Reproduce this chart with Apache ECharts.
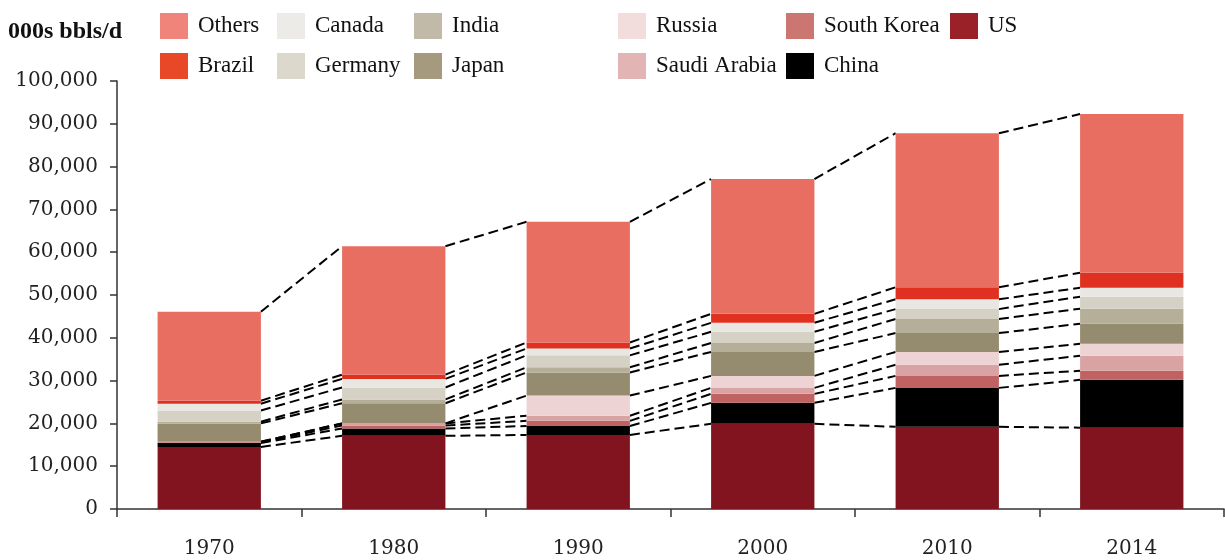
<!DOCTYPE html>
<html>
<head>
<meta charset="utf-8">
<script src="https://cdn.jsdelivr.net/npm/echarts@6/dist/echarts.min.js"></script>
<style>
  html, body { margin: 0; padding: 0; background: #fff; }
  #chart { width: 1225px; height: 560px; }
</style>
</head>
<body>
<div id="chart"></div>
<script>
// Oil consumption by country, thousand barrels per day
const years = ['1970', '1980', '1990', '2000', '2010', '2014'];
const us          = [14500, 17100, 17300, 19900, 19200, 19000];
const china       = [900, 1700, 2100, 4900, 9100, 11200];
const southKorea  = [200, 700, 1200, 2100, 2800, 2100];
const saudiArabia = [100, 500, 1200, 1400, 2600, 3500];
const russia      = [0, 0, 4700, 2800, 3000, 2800];
const japan       = [4300, 4700, 5400, 5600, 4400, 4700];
const india       = [400, 900, 1200, 2100, 3300, 3500];
const germany     = [2600, 2800, 2800, 2600, 2300, 2800];
const canada      = [1600, 2000, 1600, 2100, 2300, 2100];
const brazil      = [700, 1000, 1400, 2100, 2800, 3500];
const others      = [20800, 30000, 28200, 31500, 36000, 37100];
const yTicks = [0, 10000, 20000, 30000, 40000, 50000, 60000, 70000, 80000, 90000, 100000];

// stacking order, bottom to top
const stack = [
  { name: 'US',           data: us,          bar: '#82141f', key: '#9a2128' },
  { name: 'China',        data: china,       bar: '#000000', key: '#000000' },
  { name: 'South Korea',  data: southKorea,  bar: '#c06262', key: '#cc7672' },
  { name: 'Saudi Arabia', data: saudiArabia, bar: '#d9a3a3', key: '#e2b5b4' },
  { name: 'Russia',       data: russia,      bar: '#edd3d3', key: '#f2dcdc' },
  { name: 'Japan',        data: japan,       bar: '#958b6e', key: '#a59a7e' },
  { name: 'India',        data: india,       bar: '#b5ae98', key: '#c2baa8' },
  { name: 'Germany',      data: germany,     bar: '#d5d1c5', key: '#dcd8cc' },
  { name: 'Canada',       data: canada,      bar: '#e8e7e2', key: '#ecebe7' },
  { name: 'Brazil',       data: brazil,      bar: '#e03020', key: '#e84828' },
  { name: 'Others',       data: others,      bar: '#e86e62', key: '#f0837a' }
];

// legend columns (top row, bottom row)
const legendCols = [
  { left: 160, names: ['Others', 'Brazil'] },
  { left: 277, names: ['Canada', 'Germany'] },
  { left: 414, names: ['India', 'Japan'] },
  { left: 618, names: ['Russia', 'Saudi Arabia'] },
  { left: 786, names: ['South Korea', 'China'] },
  { left: 950, names: ['US'] }
];

const serif = 'Liberation Serif';
const numFont = 'DejaVu Serif';
const BAR_FRAC = 0.56;

// cumulative tops of each stacked segment per year
const cumTops = years.map((_, i) => {
  let s = 0;
  return stack.map(st => (s += st.data[i]));
});

// connector data: one segment per level between neighbouring years
const connectors = [];
for (let i = 0; i < years.length - 1; i++) {
  for (let k = 0; k < stack.length; k++) {
    connectors.push([i, cumTops[i][k], cumTops[i + 1][k]]);
  }
}

const colorOf = {};
stack.forEach(s => { colorOf[s.name] = s.key; });

const fmt = v => String(v).replace(/\B(?=(\d{3})+(?!\d))/g, ',');

const barSeries = stack.map(st => ({
  name: st.name,
  type: 'bar',
  stack: 'total',
  barWidth: (BAR_FRAC * 100) + '%',
  data: st.data,
  itemStyle: { color: st.bar },
  emphasis: { disabled: true },
  z: 3
}));

const connectorSeries = {
  type: 'custom',
  silent: true,
  z: 2,
  data: connectors,
  encode: { x: 0, y: [1, 2] },
  renderItem: function (params, api) {
    const i = api.value(0);
    const a = api.coord([i, api.value(1)]);
    const b = api.coord([i + 1, api.value(2)]);
    const half = api.size([1, 0])[0] * BAR_FRAC / 2;
    return {
      type: 'line',
      shape: { x1: a[0] + half, y1: a[1], x2: b[0] - half, y2: b[1] },
      style: { stroke: '#000', lineWidth: 2, lineDash: [10, 5], fill: null }
    };
  }
};

const legends = legendCols.map(col => ({
  orient: 'vertical',
  left: col.left,
  top: 13,
  padding: 0,
  itemWidth: 28,
  itemHeight: 26,
  itemGap: 14,
  icon: 'rect',
  selectedMode: false,
  textStyle: { fontFamily: serif, fontSize: 23, color: '#111', padding: [2, 0, 0, 5] },
  data: col.names.map(n => ({ name: n, itemStyle: { color: colorOf[n] } }))
}));

const chart = echarts.init(document.getElementById('chart'), null, { renderer: 'canvas' });
chart.setOption({
  animation: false,
  backgroundColor: '#fff',
  title: {
    text: '000s bbls/d',
    left: 8,
    top: 20,
    padding: 0,
    textStyle: { fontFamily: serif, fontWeight: 'bold', fontSize: 24, color: '#111' }
  },
  legend: legends,
  grid: { left: 117, right: 1, top: 81, bottom: 51, containLabel: false },
  xAxis: {
    type: 'category',
    data: years,
    axisLine: { lineStyle: { color: '#333', width: 1.5 } },
    axisTick: { show: true, length: 8, alignWithLabel: false, lineStyle: { color: '#333', width: 1.5 } },
    axisLabel: { fontFamily: numFont, fontSize: 20, color: '#222', margin: 30 }
  },
  yAxis: {
    type: 'value',
    min: yTicks[0],
    max: yTicks[yTicks.length - 1],
    interval: yTicks[1] - yTicks[0],
    splitLine: { show: false },
    axisLine: { show: true, lineStyle: { color: '#333', width: 1.5 } },
    axisTick: { show: true, length: 7, lineStyle: { color: '#333', width: 1.5 } },
    axisLabel: { fontFamily: numFont, fontSize: 20, color: '#222', margin: 19, formatter: fmt }
  },
  series: [connectorSeries].concat(barSeries)
});
</script>
</body>
</html>
